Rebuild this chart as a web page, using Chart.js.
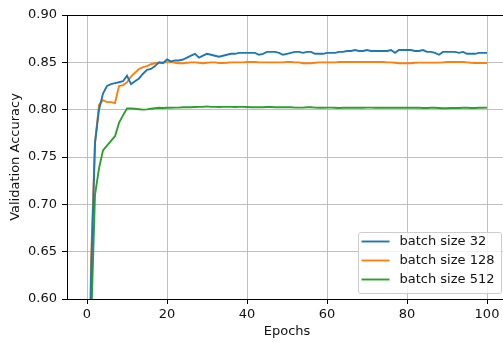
<!DOCTYPE html>
<html>
<head>
<meta charset="utf-8">
<script src="https://cdn.jsdelivr.net/npm/chart.js@4"></script>
<style>
  html, body { margin: 0; padding: 0; background: #fff; overflow: hidden; }
  #wrap { width: 507px; height: 343px; }
</style>
</head>
<body>
<div id="wrap"><canvas id="chart"></canvas></div>
<script>
// --- data (epochs 0..100) ---
const epochs = Array.from({ length: 101 }, (_, i) => i);

const batch32 = [
  0.300, 0.620, 0.765, 0.800, 0.817, 0.825, 0.827, 0.828, 0.829, 0.830,
  0.836, 0.827, 0.830, 0.833, 0.838, 0.842, 0.843, 0.846, 0.850, 0.849,
  0.853, 0.851, 0.852, 0.852, 0.853, 0.855, 0.857, 0.859, 0.855, 0.857,
  0.859, 0.858, 0.857, 0.856, 0.857, 0.858, 0.859, 0.859, 0.860, 0.860,
  0.860, 0.860, 0.860, 0.858, 0.859, 0.861, 0.861, 0.861, 0.860, 0.858,
  0.859, 0.860, 0.861, 0.861, 0.860, 0.861, 0.861, 0.859, 0.859, 0.859,
  0.860, 0.860, 0.860, 0.861, 0.861, 0.862, 0.862, 0.863, 0.862, 0.862,
  0.863, 0.862, 0.862, 0.862, 0.862, 0.862, 0.863, 0.860, 0.863, 0.863,
  0.863, 0.863, 0.862, 0.862, 0.863, 0.861, 0.861, 0.860, 0.858, 0.861,
  0.861, 0.861, 0.861, 0.860, 0.861, 0.859, 0.859, 0.859, 0.860, 0.860,
  0.860
];

const batch128 = [
  0.300, 0.640, 0.765, 0.805, 0.810, 0.808, 0.808, 0.807, 0.825, 0.826,
  0.829, 0.835, 0.839, 0.843, 0.845, 0.846, 0.848, 0.849, 0.8495, 0.850,
  0.850, 0.8505, 0.8495, 0.849, 0.849, 0.8495, 0.850, 0.850, 0.8495, 0.849,
  0.8495, 0.850, 0.850, 0.8493, 0.8493, 0.8495, 0.850, 0.850, 0.850, 0.850,
  0.8503, 0.8503, 0.8503, 0.850, 0.850, 0.850, 0.850, 0.850, 0.850, 0.850,
  0.8503, 0.8503, 0.850, 0.850, 0.849, 0.849, 0.849, 0.8495, 0.850, 0.850,
  0.850, 0.850, 0.850, 0.8503, 0.8503, 0.8503, 0.8503, 0.8503, 0.8503, 0.8503,
  0.8503, 0.8503, 0.8503, 0.8503, 0.8503, 0.850, 0.850, 0.8495, 0.849, 0.849,
  0.849, 0.849, 0.8495, 0.8497, 0.8497, 0.8497, 0.8497, 0.8497, 0.8497, 0.850,
  0.8503, 0.8503, 0.8503, 0.8503, 0.8503, 0.850, 0.8495, 0.8493, 0.8493, 0.8493,
  0.8492
];

const batch512 = [
  0.300, 0.570, 0.710, 0.738, 0.757, 0.762, 0.767, 0.772, 0.786, 0.794,
  0.8012, 0.8012, 0.801, 0.8005, 0.8000, 0.8003, 0.801, 0.8015, 0.802, 0.8018,
  0.802, 0.802, 0.8022, 0.8022, 0.8025, 0.8025, 0.8025, 0.8028, 0.803, 0.803,
  0.8035, 0.803, 0.803, 0.8028, 0.803, 0.803, 0.803, 0.8028, 0.803, 0.803,
  0.8028, 0.8025, 0.8025, 0.8025, 0.8025, 0.8028, 0.8028, 0.8025, 0.8025, 0.8025,
  0.8025, 0.8025, 0.8022, 0.8022, 0.8022, 0.8025, 0.8025, 0.8022, 0.802, 0.802,
  0.8022, 0.8022, 0.802, 0.8018, 0.802, 0.802, 0.8022, 0.802, 0.802, 0.802,
  0.8022, 0.8022, 0.802, 0.802, 0.802, 0.802, 0.8022, 0.802, 0.802, 0.802,
  0.802, 0.802, 0.802, 0.802, 0.8018, 0.8018, 0.802, 0.802, 0.8018, 0.8015,
  0.8015, 0.8018, 0.8018, 0.8018, 0.802, 0.802, 0.8018, 0.8018, 0.802, 0.802,
  0.8022
];

const seriesLabels = ['batch size 32', 'batch size 128', 'batch size 512'];
const seriesColors = ['#1f77b4', '#ff7f0e', '#2ca02c'];
const xTicks = [0, 20, 40, 60, 80, 100];
const yTicks = [0.60, 0.65, 0.70, 0.75, 0.80, 0.85, 0.90];

const FONT = { family: 'DejaVu Sans', size: 13 };
const TEXT = '#111';

// --- frame + legend drawn in matplotlib style ---
const framePlugin = {
  id: 'frame',
  afterDatasetsDraw(chart) {
    const { ctx, chartArea: a } = chart;
    ctx.save();
    ctx.strokeStyle = '#000';
    ctx.lineWidth = 1;
    ctx.strokeRect(Math.round(a.left) + 0.5, Math.round(a.top) + 0.5,
      Math.round(a.right - a.left), Math.round(a.bottom - a.top));
    ctx.restore();
  }
};

const legendPlugin = {
  id: 'boxLegend',
  afterDraw(chart) {
    const { ctx, chartArea: a } = chart;
    const fs = FONT.size;
    ctx.save();
    ctx.font = `${fs}px ${FONT.family}`;
    const sets = chart.data.datasets;
    const textW = Math.max(...sets.map(d => ctx.measureText(d.label).width));
    const rowH = 19;
    const w = 4 + 28 + 10 + textW + 6;
    const h = 10 + rowH * (sets.length - 1) + 13;
    const right = a.right - 6.5, bottom = a.bottom - 6.5;
    const x = right - w, y = bottom - h;
    ctx.fillStyle = 'rgba(255,255,255,0.8)';
    ctx.strokeStyle = '#cccccc';
    ctx.lineWidth = 1;
    ctx.beginPath();
    ctx.roundRect(Math.round(x) + 0.5, Math.round(y) + 0.5, Math.round(w), Math.round(h), 2.5);
    ctx.fill();
    ctx.stroke();
    sets.forEach((d, i) => {
      const cy = y + 10 + rowH * i;
      ctx.strokeStyle = d.borderColor;
      ctx.lineWidth = d.borderWidth;
      ctx.beginPath();
      ctx.moveTo(x + 4, cy);
      ctx.lineTo(x + 32, cy);
      ctx.stroke();
      ctx.fillStyle = TEXT;
      ctx.textBaseline = 'middle';
      ctx.fillText(d.label, x + 42, cy);
    });
    ctx.restore();
  }
};

const ctx = document.getElementById('chart');
new Chart(ctx, {
  type: 'line',
  data: {
    labels: epochs,
    datasets: [batch32, batch128, batch512].map((vals, i) => ({
      label: seriesLabels[i],
      data: vals.map((v, j) => ({ x: epochs[j], y: v })),
      borderColor: seriesColors[i],
      backgroundColor: seriesColors[i],
      borderWidth: 1.9,
      pointRadius: 0,
      tension: 0,
      fill: false
    }))
  },
  options: {
    responsive: true,
    maintainAspectRatio: false,
    devicePixelRatio: 1,
    animation: false,
    layout: { padding: { top: 15, right: 0, bottom: 0, left: 0 } },
    plugins: { legend: { display: false }, tooltip: { enabled: false } },
    scales: {
      x: {
        type: 'linear',
        min: -5,
        max: 105,
        afterBuildTicks: s => { s.ticks = xTicks.map(v => ({ value: v })); },
        afterFit: s => { s.height = 44; },
        grid: { color: '#b0b0b0', lineWidth: 0.8, tickColor: '#000', tickLength: 5, tickWidth: 1 },
        border: { display: false },
        ticks: { font: FONT, color: TEXT, padding: 3, maxRotation: 0 },
        title: { display: true, text: 'Epochs', font: FONT, color: TEXT, padding: { top: 0, bottom: 4 } }
      },
      y: {
        min: 0.6,
        max: 0.9,
        afterBuildTicks: s => { s.ticks = yTicks.map(v => ({ value: v })); },
        afterFit: s => { s.width = 67; },
        grid: { color: '#b0b0b0', lineWidth: 0.8, tickColor: '#000', tickLength: 5, tickWidth: 1 },
        border: { display: false },
        ticks: { font: FONT, color: TEXT, padding: 5, callback: v => v.toFixed(2) },
        title: { display: true, text: 'Validation Accuracy', font: FONT, color: TEXT, padding: { top: 8, bottom: 0 } }
      }
    }
  },
  plugins: [framePlugin, legendPlugin]
});
</script>
</body>
</html>
